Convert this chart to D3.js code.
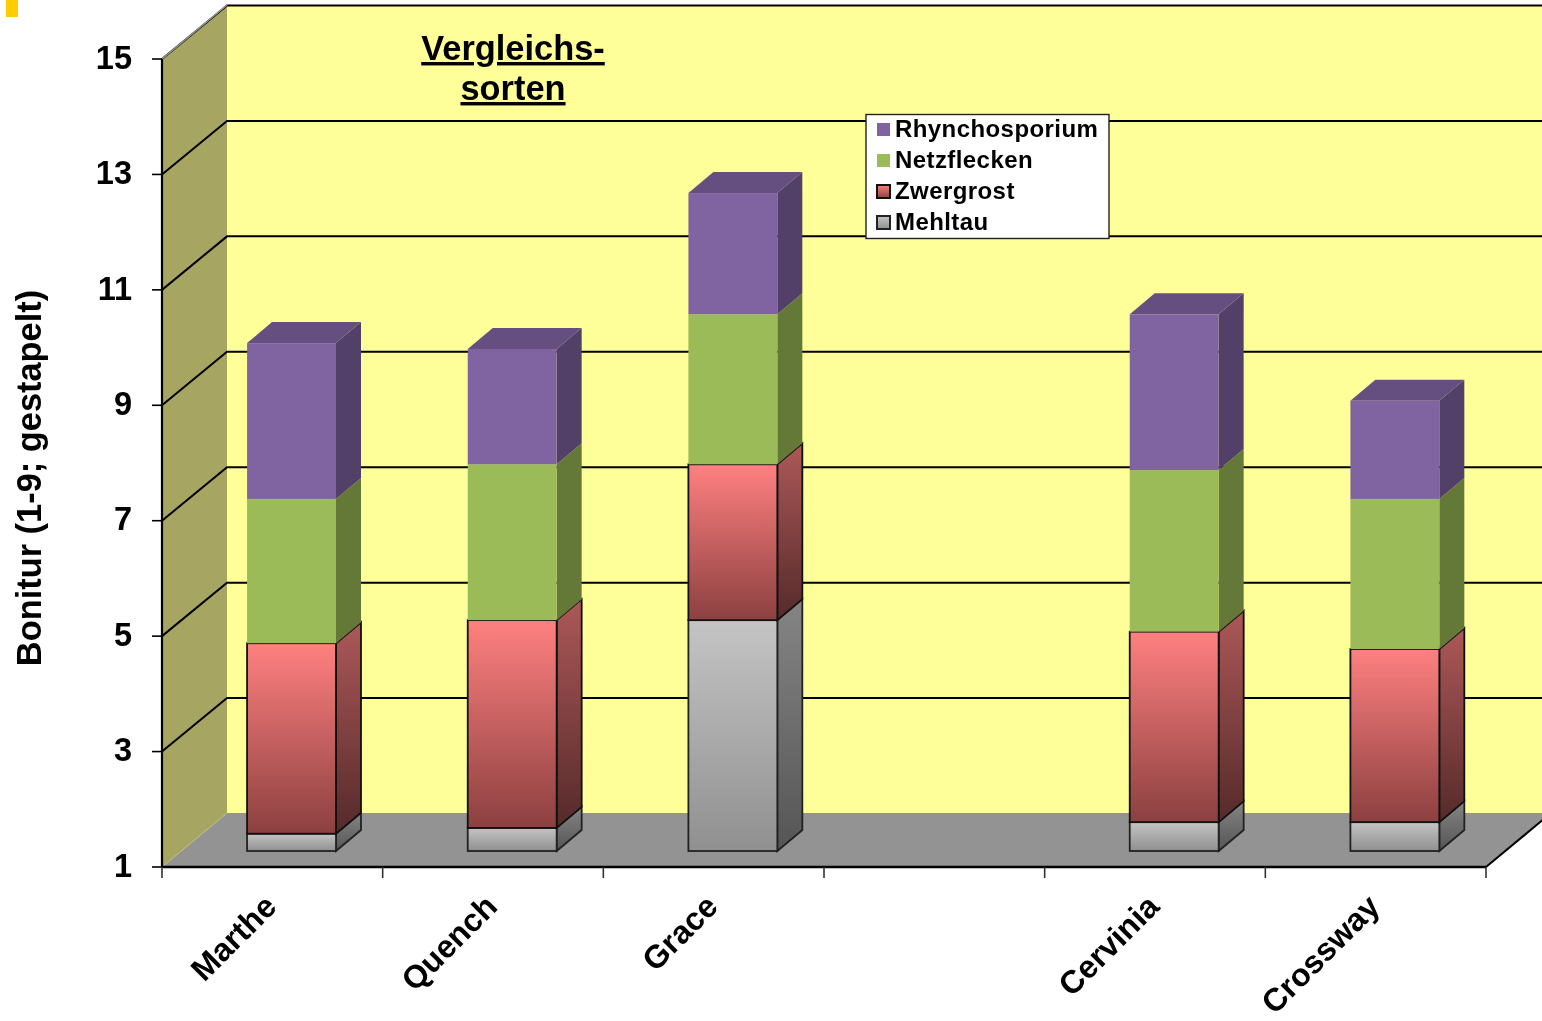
<!DOCTYPE html>
<html><head><meta charset="utf-8">
<script src="https://cdn.jsdelivr.net/npm/d3@7"></script>
<style>html,body{margin:0;padding:0;background:#fff;overflow:hidden}svg{display:block;filter:blur(0.5px)}text{font-family:"Liberation Sans",Arial,sans-serif;font-weight:700;fill:#000}</style>
</head><body><svg id="c" width="1542" height="1021"></svg>
<script>
const categories = ["Marthe","Quench","Grace","","Cervinia","Crossway"];
const mehltau = [1.3,1.4,5.0,0,1.5,1.5];
const zwergrost = [3.3,3.6,2.7,0,3.3,3.0];
const netzflecken = [2.5,2.7,2.6,0,2.8,2.6];
const rhynchosporium = [2.7,2.0,2.1,0,2.7,1.7];
const yTicks = [1,3,5,7,9,11,13,15];
const legendLabels = ["Rhynchosporium","Netzflecken","Zwergrost","Mehltau"];
const titleLines = ["Vergleichs-","sorten"];
const yTitle = "Bonitur (1-9; gestapelt)";

const W=1542,H=1021;
const svg=d3.select("#c");
const y=d3.scaleLinear([1,15],[867,59]).clamp(true);
const x=d3.scaleBand(categories,[162,1486]).paddingInner(.597).paddingOuter(.2985);
const wall={dx:65,dy:54}, off={dx:19.2,dy:16}, dep={dx:25,dy:21};
const x0=162,x1=1486;

const rows=categories.map((c,i)=>({c,mehltau:mehltau[i],zwergrost:zwergrost[i],netzflecken:netzflecken[i],rhynchosporium:rhynchosporium[i]}));
const keys=["mehltau","zwergrost","netzflecken","rhynchosporium"];
const stacked=d3.stack().keys(keys)(rows);

const defs=svg.append("defs");
function grad(id,a,b){const g=defs.append("linearGradient").attr("id",id).attr("x1",0).attr("y1",0).attr("x2",0).attr("y2",1);
 g.append("stop").attr("offset",0).attr("stop-color",a);g.append("stop").attr("offset",1).attr("stop-color",b);}
grad("redF","#ff8080","#8c4040");grad("redS","#ad5858","#552a2a");
grad("grayF","#c4c4c4","#909090");grad("grayS","#858585","#555555");
const style={
 mehltau:{f:"url(#grayF)",s:"url(#grayS)",t:"#a0a0a0",stroke:"#222"},
 zwergrost:{f:"url(#redF)",s:"url(#redS)",t:"#a05050",stroke:"#111"},
 netzflecken:{f:"#9bbb59",s:"#647838",t:"#7d9647",stroke:"none"},
 rhynchosporium:{f:"#8064a2",s:"#534069",t:"#644f80",stroke:"none"}
};
const poly=p=>d3.line()(p)+"Z";

// walls
svg.append("rect").attr("x",x0+wall.dx).attr("y",y(15)-wall.dy).attr("width",W-x0-wall.dx).attr("height",y(1)-y(15)).attr("fill","#ffff99");
svg.append("path").attr("d",poly([[x0,y(1)],[x0,y(15)],[x0+wall.dx,y(15)-wall.dy],[x0+wall.dx,y(1)-wall.dy]])).attr("fill","#a6a561");
svg.append("path").attr("d",poly([[x0,y(1)],[x0+wall.dx,y(1)-wall.dy],[x1+wall.dx,y(1)-wall.dy],[x1,y(1)]])).attr("fill","#939393");
// grid
const grid=svg.append("g").attr("fill","none").attr("stroke","#000").attr("stroke-width",2);
yTicks.filter(v=>v>1).forEach(v=>{
 grid.append("path").attr("d",d3.line()([[x0,y(v)],[x0+wall.dx,y(v)-wall.dy+.5],[W,y(v)-wall.dy+.5]]));
});
svg.append("path").attr("d",d3.line()([[x0,y(15)],[x0+wall.dx,y(15)-wall.dy]])).attr("stroke","#999").attr("stroke-width",1.5).attr("fill","none");
svg.append("path").attr("d",d3.line()([[x0,y(1)],[x0+wall.dx,y(1)-wall.dy]])).attr("stroke","#bdbd80").attr("stroke-width",1).attr("fill","none");
svg.append("path").attr("d",d3.line()([[x1,y(1)],[x1+wall.dx,y(1)-wall.dy]])).attr("stroke","#000").attr("stroke-width",2).attr("fill","none");

// axes
const yAxis=d3.axisLeft(y).tickValues(yTicks).tickSize(10).tickPadding(20).tickFormat(d3.format("d")).offset(0);
const gy=svg.append("g").attr("transform",`translate(${x0},0)`).call(yAxis);
gy.selectAll(".domain").attr("stroke","#000").attr("stroke-width",2.2).attr("d",`M0,${y(15)}V${y(1)}`);
gy.selectAll(".tick line").attr("stroke","#000").attr("stroke-width",1.6);
gy.selectAll(".tick text").attr("font-size",32.5).style("font-family",'"Liberation Sans",Arial,sans-serif').style("font-weight",700).attr("fill","#000").attr("dy","0.3em");

const xEdges=d3.scaleLinear([0,categories.length],[x0,x1]);
const gx=svg.append("g").attr("transform",`translate(0,${y(1)})`).call(d3.axisBottom(xEdges).tickValues(d3.range(categories.length+1)).tickSize(11).tickFormat("").offset(0));
gx.selectAll(".domain").attr("stroke","#000").attr("stroke-width",2.6).attr("d",`M${x0},0H${x1}`);
gx.selectAll(".tick line").attr("stroke","#333").attr("stroke-width",1.6);

svg.append("g").selectAll("text").data(categories.filter(c=>c)).join("text")
 .attr("transform",d=>`translate(${x(d)+x.bandwidth()/2+6},${y(1)+41.5}) rotate(-45)`)
 .attr("text-anchor","end").attr("font-size",32).text(d=>d);

// bars
categories.forEach((c,i)=>{
 if(!c) return;
 const g=svg.append("g");
 const X=x(c)+off.dx, B=x.bandwidth();
 stacked.forEach((ser,si)=>{
  const k=ser.key, st=style[k], d=ser[i];
  const yb=y(d[0])-off.dy, yt=y(d[1])-off.dy;
  const sw=st.stroke==="none"?0:1.8;
  g.append("path").attr("d",poly([[X+B,yb],[X+B,yt],[X+B+dep.dx,yt-dep.dy],[X+B+dep.dx,yb-dep.dy]])).attr("fill",st.s).attr("stroke",st.stroke).attr("stroke-width",sw);
  if(si===keys.length-1) g.append("path").attr("d",poly([[X,yt],[X+B,yt],[X+B+dep.dx,yt-dep.dy],[X+dep.dx,yt-dep.dy]])).attr("fill",st.t);
  g.append("rect").attr("x",X).attr("y",yt).attr("width",B).attr("height",yb-yt).attr("fill",st.f).attr("stroke",st.stroke).attr("stroke-width",sw);
 });
});

// y title
svg.append("text").attr("transform","translate(41,478) rotate(-90)").attr("text-anchor","middle").attr("font-size",34.4).text(yTitle);
// chart title
const tg=svg.append("g");
titleLines.forEach((t,i)=>tg.append("text").attr("x",513).attr("y",60+i*40).attr("text-anchor","middle").attr("font-size",34.4).attr("text-decoration","underline").text(t));
// legend
svg.append("rect").attr("x",866).attr("y",114.5).attr("width",243).attr("height",124).attr("fill","#fff").attr("stroke","#222").attr("stroke-width",1.4);
const legendKeys=["rhynchosporium","netzflecken","zwergrost","mehltau"];
legendLabels.forEach((t,i)=>{
 const yy=129+i*31;
 const st=style[legendKeys[i]];
 const lined=st.stroke!=="none";
 svg.append("rect").attr("x",877).attr("y",yy-6).attr("width",13).attr("height",13).attr("fill",st.f).attr("stroke",st.stroke).attr("stroke-width",lined?2:0);
 svg.append("text").attr("x",895).attr("y",yy+8).attr("font-size",24).attr("letter-spacing",0.42).text(t);
});
// corner marker
svg.append("rect").attr("x",6).attr("y",0).attr("width",12).attr("height",17).attr("fill","#ffcc00");
</script></body></html>
